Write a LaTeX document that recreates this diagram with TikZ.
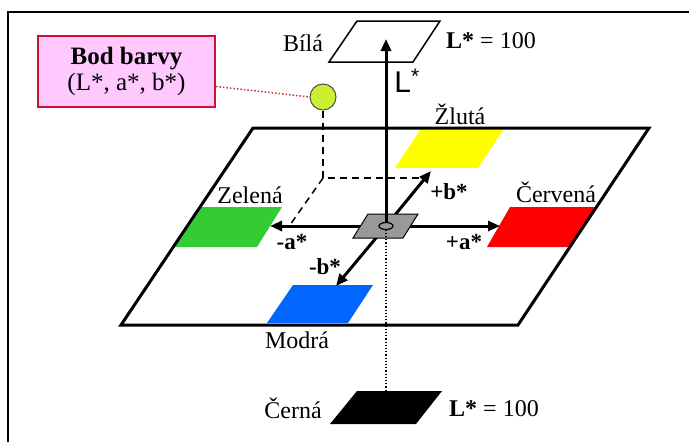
\documentclass[tikz,border=0pt]{standalone}
\usepackage{fontspec}
\setmainfont{Liberation Serif}
\newfontfamily\arialf{Liberation Sans}
\usetikzlibrary{arrows.meta}
\definecolor{boxred}{RGB}{200,20,50}
\definecolor{boxpink}{RGB}{255,200,255}
\definecolor{ptgreen}{RGB}{204,238,51}
\definecolor{pgreen}{RGB}{51,204,51}
\definecolor{pblue}{RGB}{0,102,255}
\definecolor{pred}{RGB}{255,0,0}
\definecolor{pyellow}{RGB}{255,255,0}
\definecolor{dotred}{RGB}{200,50,50}
\begin{document}
\begin{tikzpicture}[x=1pt,y=-1pt,
  lbl/.style={font=\fontsize{24}{27}\selectfont, inner sep=0pt},
  axlbl/.style={font=\fontsize{23}{26}\selectfont\bfseries, inner sep=0pt},
  axisarrow/.style={line width=3pt, -{Triangle[length=12pt,width=10pt]}},
  thinline/.style={line width=1.5pt},
  dashln/.style={line width=1.5pt, dash pattern=on 7pt off 5pt},
]
\useasboundingbox (0,0) rectangle (689,442);
% frame
\draw[thinline] (8,442) -- (8,12) -- (689,12);
% colour patches
\fill[pgreen]  (202,207) -- (282,207) -- (257,247) -- (175,247) -- cycle;
\fill[pblue]   (293,285) -- (373,285) -- (348,323) -- (267,323) -- cycle;
\fill[pred]    (510,207) -- (596,207) -- (569,247) -- (487,247) -- cycle;
\fill[pyellow] (420,130) -- (503,130) -- (478,168) -- (395,168) -- cycle;
% plane
\draw[line width=3pt, line join=miter] (253,128) -- (649,128) -- (518,325) -- (121,325) -- cycle;
% colour point
\node[circle, draw=black!70, fill=ptgreen, minimum size=26pt, inner sep=0pt, line width=1pt] (pt) at (323,97) {};
\coordinate (corner) at (323,178);
\coordinate (bproj) at (423,178);
\coordinate (aproj) at (290,225);
\draw[dashln] (pt.south) -- (corner) -- (bproj);
\draw[dashln] (corner) -- (aproj);
% axes
\coordinate (C) at (386,226);
\coordinate (am) at (270,226);
\coordinate (ap) at (500,226);
\coordinate (bp) at (431,171);
\coordinate (bm) at (336,286);
\draw[axisarrow] (C) -- (am);
\draw[axisarrow] (C) -- (ap);
\draw[axisarrow] (C) -- (bp);
\draw[axisarrow] (C) -- (bm);
% centre square
\draw[line width=1pt, fill=black!40] (368,214) -- (418,214) -- (403,238) -- (353,238) -- cycle;
\draw[line width=1.2pt] (C) ellipse [x radius=7, y radius=3.5];
% white and black planes
\draw[thinline, fill=white] (357,21) -- (440,21) -- (413,62) -- (329,62) -- cycle;
\fill[black] (357,391) -- (442,391) -- (416,424) -- (330,424) -- cycle;
\coordinate (Ltop) at (386,39);
\coordinate (Lbot) at (386,391);
\draw[axisarrow] ([yshift=3.5pt]C) -- (Ltop);
\draw[line width=1.2pt, dotted] ([yshift=-3.5pt]C) -- (Lbot);
% labels
\node[lbl] (bila) at (303,43) {Bílá};
\node[lbl] (lw) at (491,41) {\textbf{L*} = 100};
\node[lbl] (cerna) at (293,408) {Černá};
\node[lbl] (lb) at (494,409) {\textbf{L*} = 100};
\node[lbl] (zelena) at (250,195) {Zelená};
\node[lbl] (modra) at (297,340) {Modrá};
\node[lbl] (cervena) at (556,192) {Červená};
\node[lbl] (zluta) at (460,114) {Žlutá};
\node[inner sep=0pt, font=\arialf\fontsize{30}{32}\selectfont] (Llbl) at (407,81) {L\textsuperscript{*}};
\node[axlbl] (amlbl) at (292,242) {-a*};
\node[axlbl] (aplbl) at (464,242) {+a*};
\node[axlbl] (bplbl) at (449,192) {+b*};
\node[axlbl] (bmlbl) at (325,267) {-b*};
% label box
\node[draw=boxred, fill=boxpink, line width=2pt, minimum width=177pt, minimum height=71pt,
  align=center, font=\fontsize{25}{26}\selectfont, inner sep=0pt] (box) at (126.5,71.5)
  {\textbf{Bod barvy}\\(L*, a*, b*)};
\draw[dotred, line width=1.5pt, dotted] ([yshift=-15pt]box.east) -- (pt.west);
\end{tikzpicture}
\end{document}
